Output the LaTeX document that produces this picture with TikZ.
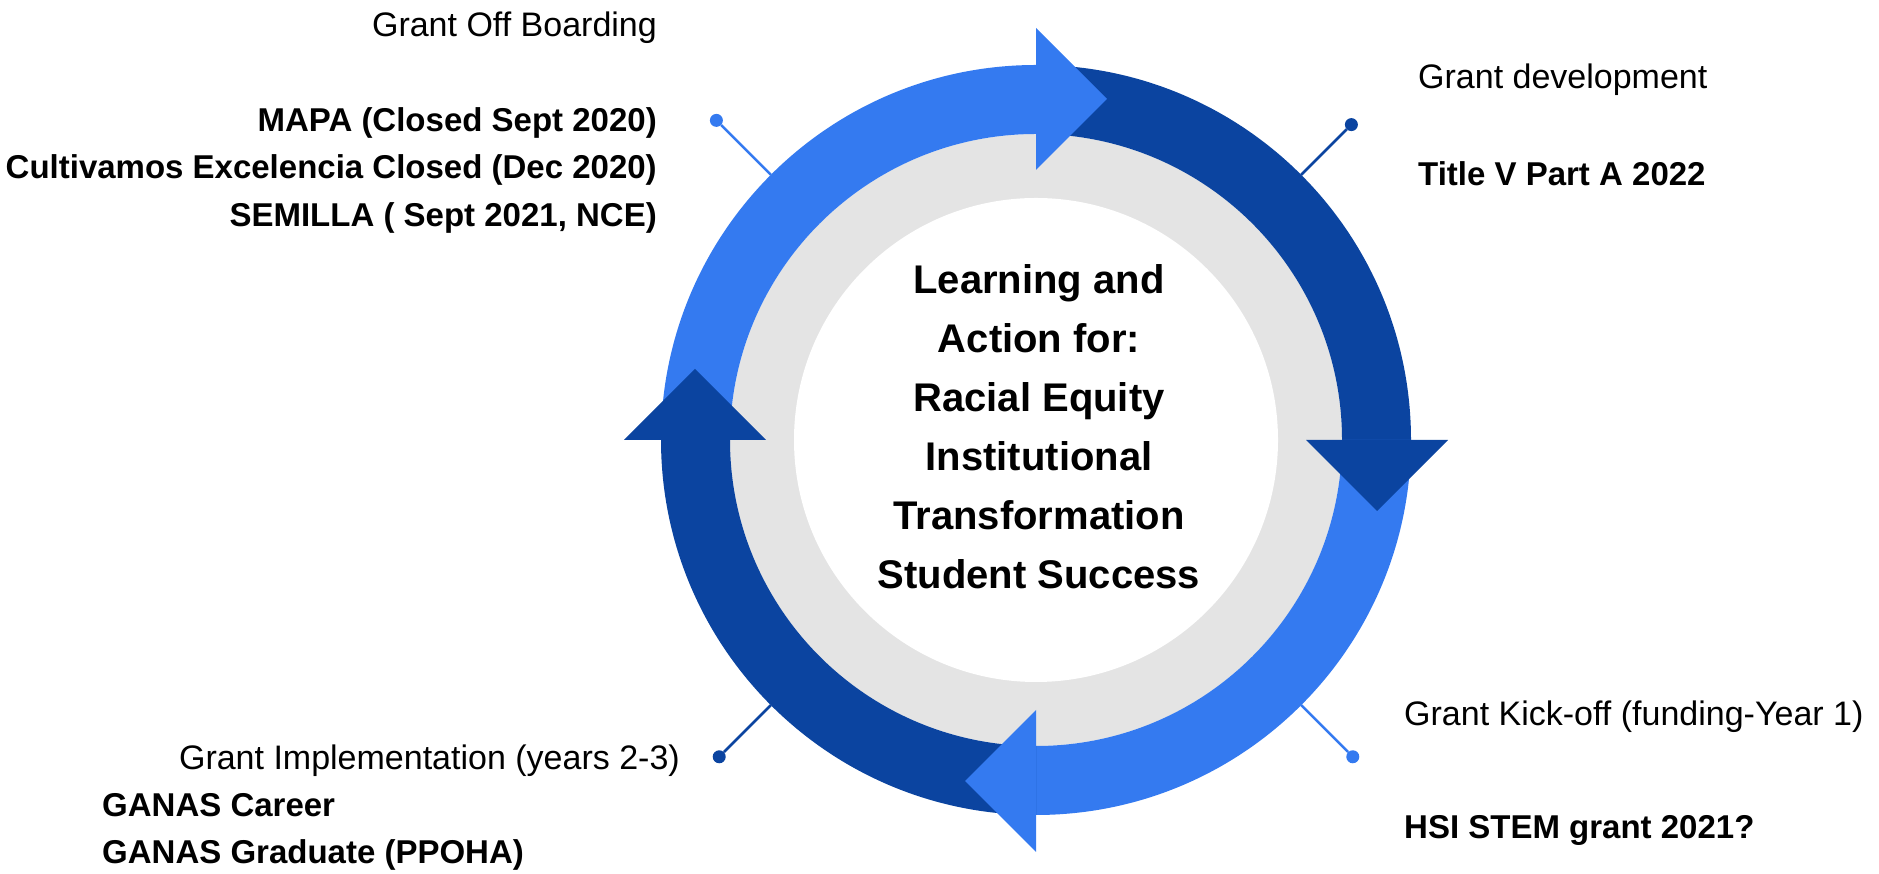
\documentclass[tikz,border=0pt]{standalone}
\usepackage{fontspec}
\setmainfont{Liberation Sans}
\usetikzlibrary{positioning, calc}
\definecolor{cycleLight}{HTML}{347AF0}
\definecolor{cycleDark}{HTML}{0B44A0}
\definecolor{ringGray}{HTML}{E4E4E4}
\tikzset{
  stageHead/.style={font=\fontsize{34}{40}\selectfont, inner sep=0pt},
  stageList/.style={font=\bfseries\fontsize{33}{47.5}\selectfont, inner sep=0pt},
  hubText/.style={align=center, font=\bfseries\fontsize{40}{59}\selectfont, inner sep=0pt},
  pinDot/.style={circle, inner sep=0pt, minimum size=13pt},
  pinLine/.style={line width=2.5pt},
}

\begin{document}
\begin{tikzpicture}[x=1pt, y=1pt]
    \useasboundingbox (0,0) rectangle (1879,874);
    \coordinate (hub) at (1036,434);
    \fill[ringGray] (hub) circle[radius=306];
    \fill[white] (hub) circle[radius=242];
    \begin{scope}[shift={(hub)}]
      % quarter segments first, heads after so each head sits on the next segment
      \foreach \rot/\col in {0/cycleLight, -90/cycleDark, 180/cycleLight, 90/cycleDark}
        \fill[\col, rotate=\rot] (180:375) arc[start angle=180, end angle=90, radius=375]
          -- (90:306) arc[start angle=90, end angle=180, radius=306] -- cycle;
      \foreach \rot/\col in {0/cycleLight, -90/cycleDark, 180/cycleLight, 90/cycleDark}
        \fill[\col, rotate=\rot] (0,270) -- (0,412) -- (71,341) -- cycle;
      % pins
      \coordinate (ringOff) at (135:375);
      \coordinate (ringDev) at (45:375);
      \coordinate (ringKick) at (-45:375);
      \coordinate (ringImpl) at (-135:375);
      \node[pinDot, fill=cycleLight] (pinOff) at (135:452) {};
      \node[pinDot, fill=cycleDark] (pinDev) at (45:446) {};
      \node[pinDot, fill=cycleLight] (pinKick) at (-45:448) {};
      \node[pinDot, fill=cycleDark] (pinImpl) at (-135:448) {};
    \end{scope}
    \draw[pinLine, cycleLight] (ringOff) -- (pinOff);
    \draw[pinLine, cycleDark] (ringDev) -- (pinDev);
    \draw[pinLine, cycleLight] (ringKick) -- (pinKick);
    \draw[pinLine, cycleDark] (ringImpl) -- (pinImpl);

    \node[hubText] (hubLabel) at (1039,447) {Learning and\\Action for:\\Racial Equity\\Institutional\\Transformation\\Student Success};

    \node[stageHead, anchor=base east] (offHead) at (657,837) {Grant Off Boarding};
    \node[stageList, align=right, anchor=north east] (offList) at (657,767)
      {MAPA (Closed Sept 2020)\\Cultivamos Excelencia Closed (Dec 2020)\\SEMILLA ( Sept 2021, NCE)};
    \node[stageHead, anchor=base west] (devHead) at (1418,785) {Grant development};
    \node[stageList, anchor=base west] (devList) at (1418,688) {Title V Part A 2022};
    \node[stageHead, anchor=base west] (kickHead) at (1404,148) {Grant Kick-off (funding-Year 1)};
    \node[stageList, anchor=base west] (kickList) at (1404,35) {HSI STEM grant 2021?};
    \node[stageHead, anchor=base east] (implHead) at (680,104) {Grant Implementation (years 2-3)};
    \node[stageList, align=left, anchor=north west] (implList) at (102,81)
      {GANAS Career\\GANAS Graduate (PPOHA)};
\end{tikzpicture}
\end{document}
